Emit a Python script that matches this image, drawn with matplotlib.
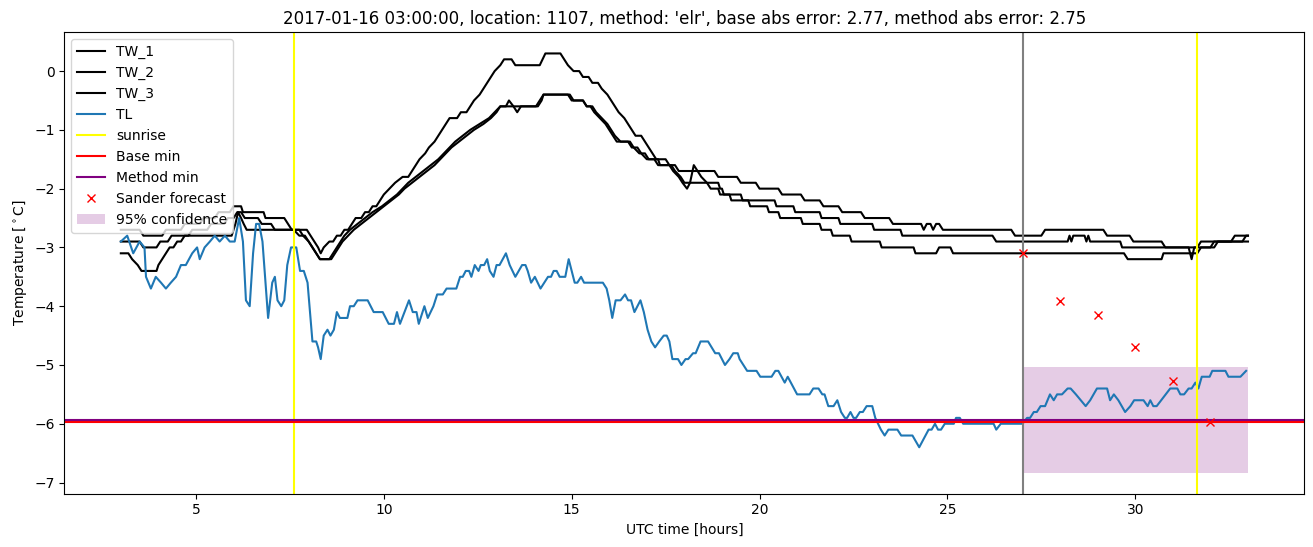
import matplotlib
matplotlib.use("Agg")
from matplotlib import pyplot as plt

# (hours, degC)
tw_1 = [(3.0, -2.7), (3.5, -2.7), (3.6, -2.8), (4.1, -2.8), (4.2, -2.7), (4.6, -2.7), (4.7, -2.6),
        (5.1, -2.6), (5.2, -2.5), (5.5, -2.5), (5.6, -2.4), (5.9, -2.4), (6.0, -2.3), (6.2, -2.3),
        (6.25, -2.4), (6.8, -2.4), (6.85, -2.5), (7.35, -2.5), (7.45, -2.6), (7.55, -2.7), (7.95, -2.7),
        (8.05, -2.8), (8.15, -2.9), (8.25, -3.0), (8.32, -3.1), (8.4, -3.0), (8.55, -2.9), (8.65, -2.9),
        (8.75, -2.8), (8.85, -2.8), (8.95, -2.7), (9.05, -2.7), (9.15, -2.6), (9.25, -2.5), (9.4, -2.5),
        (9.5, -2.4), (9.6, -2.4), (9.7, -2.3), (9.8, -2.3), (9.9, -2.2), (10.0, -2.1), (10.15, -2.0),
        (10.3, -1.9), (10.5, -1.8), (10.65, -1.8), (10.75, -1.7), (10.85, -1.6), (10.95, -1.5),
        (11.1, -1.4), (11.2, -1.3), (11.35, -1.2), (11.45, -1.1), (11.55, -1.0), (11.65, -0.9),
        (11.75, -0.8), (11.95, -0.8), (12.05, -0.7), (12.2, -0.7), (12.3, -0.6), (12.4, -0.5),
        (12.55, -0.4), (12.65, -0.3), (12.75, -0.2), (12.85, -0.1), (12.95, 0.0), (13.1, 0.1),
        (13.2, 0.2), (13.4, 0.2), (13.5, 0.1), (14.15, 0.1), (14.3, 0.3), (14.7, 0.3), (14.8, 0.2),
        (14.9, 0.1), (15.05, 0.0), (15.2, 0.0), (15.3, -0.1), (15.45, -0.1), (15.55, -0.2), (15.7, -0.2),
        (15.8, -0.3), (15.95, -0.4), (16.05, -0.5), (16.15, -0.6), (16.25, -0.7), (16.4, -0.8),
        (16.5, -0.9), (16.6, -1.0), (16.7, -1.1), (16.85, -1.1), (16.95, -1.2), (17.05, -1.3),
        (17.15, -1.4), (17.25, -1.5), (17.5, -1.5), (17.6, -1.6), (17.75, -1.6), (17.85, -1.7),
        (18.8, -1.7), (18.9, -1.8), (19.4, -1.8), (19.5, -1.9), (19.9, -1.9), (20.0, -2.0), (20.5, -2.0),
        (20.6, -2.1), (21.1, -2.1), (21.2, -2.2), (21.6, -2.2), (21.7, -2.3), (22.1, -2.3), (22.2, -2.4),
        (22.7, -2.4), (22.8, -2.5), (23.45, -2.5), (23.55, -2.6), (24.3, -2.6), (24.37, -2.7),
        (24.45, -2.6), (24.55, -2.6), (24.62, -2.7), (24.7, -2.6), (24.78, -2.6), (24.88, -2.7),
        (26.7, -2.7), (26.8, -2.8), (27.5, -2.8), (27.6, -2.7), (29.15, -2.7), (29.25, -2.8),
        (29.85, -2.8), (29.95, -2.9), (30.7, -2.9), (30.8, -3.0), (31.65, -3.0), (31.75, -2.9),
        (32.55, -2.9), (32.65, -2.8), (33.0, -2.8)]

tw_2 = [(3.0, -2.9), (3.5, -2.9), (3.6, -3.0), (3.95, -3.0), (4.05, -2.9), (4.25, -2.9), (4.35, -2.8),
        (4.8, -2.8), (4.9, -2.7), (5.3, -2.7), (5.4, -2.6), (5.75, -2.6), (5.85, -2.5), (6.0, -2.5),
        (6.1, -2.4), (6.2, -2.4), (6.3, -2.5), (6.65, -2.5), (6.75, -2.6), (7.0, -2.6), (7.1, -2.7),
        (7.75, -2.7), (7.85, -2.8), (8.0, -2.9), (8.1, -3.0), (8.2, -3.1), (8.3, -3.2), (8.55, -3.2),
        (8.65, -3.1), (8.75, -3.0), (8.85, -2.9), (8.95, -2.8), (9.1, -2.7), (9.3, -2.6), (9.5, -2.5),
        (9.7, -2.4), (9.95, -2.3), (10.15, -2.2), (10.35, -2.1), (10.5, -2.0), (10.65, -1.9),
        (10.85, -1.8), (11.05, -1.7), (11.25, -1.6), (11.45, -1.5), (11.6, -1.4), (11.75, -1.3),
        (11.9, -1.2), (12.1, -1.1), (12.3, -1.0), (12.55, -0.9), (12.8, -0.8), (12.95, -0.7),
        (13.1, -0.6), (13.25, -0.6), (13.33, -0.5), (13.45, -0.6), (13.55, -0.7),
        (13.65, -0.6), (14.1, -0.6), (14.2, -0.5), (14.25, -0.4), (14.95, -0.4), (15.05, -0.5),
        (15.3, -0.5), (15.4, -0.6), (15.55, -0.6), (15.65, -0.7), (15.8, -0.8), (15.95, -0.9),
        (16.05, -1.0), (16.15, -1.1), (16.3, -1.2), (16.5, -1.2), (16.6, -1.3), (16.75, -1.3),
        (16.85, -1.4), (17.0, -1.5), (17.2, -1.5), (17.3, -1.6), (17.6, -1.6), (17.7, -1.7),
        (17.85, -1.8), (17.95, -1.9), (18.07, -2.0), (18.15, -1.9), (18.25, -1.6), (18.35, -1.7),
        (18.45, -1.8), (18.6, -1.9), (18.9, -1.9), (18.95, -2.0), (19.0, -2.0), (19.05, -2.1),
        (19.5, -2.1), (19.55, -2.2), (20.4, -2.2), (20.45, -2.3), (20.9, -2.3), (20.95, -2.4),
        (21.6, -2.4), (21.65, -2.5), (22.1, -2.5), (22.15, -2.6), (23.0, -2.6), (23.05, -2.7),
        (23.75, -2.7), (23.8, -2.8), (26.2, -2.8), (26.3, -2.9), (28.2, -2.9), (28.25, -2.8),
        (28.3, -2.9), (28.35, -2.8), (28.65, -2.8), (28.7, -2.9), (28.75, -2.8), (28.8, -2.9),
        (29.6, -2.9), (29.65, -3.0), (31.42, -3.0), (31.5, -3.2), (31.57, -3.0), (32.0, -3.0),
        (32.1, -2.9), (33.0, -2.9)]

tw_3 = [(3.0, -3.1), (3.2, -3.1), (3.3, -3.2), (3.45, -3.3), (3.55, -3.4), (3.95, -3.4), (4.0, -3.3),
        (4.1, -3.2), (4.2, -3.1), (4.3, -3.0), (4.4, -3.0), (4.5, -2.9), (4.6, -2.9), (4.7, -2.8),
        (5.95, -2.8), (6.05, -2.6), (6.12, -2.4), (6.2, -2.5), (6.27, -2.6), (6.35, -2.7), (7.6, -2.7),
        (7.75, -2.8), (7.9, -2.8), (8.0, -2.9), (8.1, -3.0), (8.2, -3.1), (8.3, -3.2), (8.6, -3.2),
        (8.7, -3.1), (8.8, -3.0), (8.9, -2.9), (9.05, -2.8), (9.2, -2.7), (9.4, -2.6), (9.6, -2.5),
        (9.8, -2.4), (10.0, -2.3), (10.2, -2.2), (10.4, -2.1), (10.55, -2.0), (10.75, -1.9),
        (10.95, -1.8), (11.15, -1.7), (11.35, -1.6), (11.5, -1.5), (11.65, -1.4), (11.8, -1.3),
        (12.0, -1.2), (12.2, -1.1), (12.4, -1.0), (12.65, -0.9), (12.85, -0.8), (13.0, -0.7),
        (13.1, -0.6), (14.05, -0.6), (14.15, -0.5), (14.25, -0.4), (14.9, -0.4), (15.0, -0.5),
        (15.3, -0.5), (15.4, -0.6), (15.5, -0.6), (15.6, -0.7), (15.75, -0.8), (15.9, -0.9),
        (16.0, -1.0), (16.1, -1.1), (16.2, -1.2), (16.55, -1.2), (16.65, -1.3), (16.8, -1.4),
        (16.95, -1.4), (17.05, -1.5), (17.3, -1.5), (17.35, -1.6), (17.65, -1.6), (17.75, -1.7),
        (17.9, -1.8), (18.0, -1.9), (18.6, -1.9), (18.7, -2.0), (18.9, -2.0), (18.95, -2.1),
        (19.2, -2.1), (19.25, -2.2), (19.7, -2.2), (19.75, -2.3), (20.2, -2.3), (20.25, -2.4),
        (20.5, -2.4), (20.55, -2.5), (21.1, -2.5), (21.15, -2.6), (21.6, -2.6), (21.65, -2.7),
        (21.9, -2.7), (21.95, -2.8), (22.4, -2.8), (22.45, -2.9), (23.2, -2.9), (23.25, -3.0),
        (24.1, -3.0), (24.15, -3.1), (24.7, -3.1), (24.78, -3.0), (25.08, -3.0), (25.15, -3.1),
        (29.7, -3.1), (29.8, -3.2), (30.7, -3.2), (30.75, -3.1), (31.65, -3.1), (31.75, -3.0),
        (32.1, -3.0), (32.2, -2.9), (32.85, -2.9), (32.95, -2.8), (33.0, -2.8)]

tl = [(3.0, -2.9), (3.17, -2.8), (3.33, -3.1), (3.5, -2.9), (3.63, -3.0), (3.67, -3.5), (3.8, -3.7),
      (3.93, -3.5), (4.07, -3.6), (4.2, -3.7), (4.33, -3.6), (4.47, -3.5), (4.6, -3.3), (4.73, -3.3),
      (4.9, -3.1), (5.03, -3.0), (5.1, -3.2), (5.23, -3.0), (5.37, -2.9), (5.5, -2.8), (5.63, -2.9),
      (5.77, -2.8), (5.9, -2.9), (6.03, -2.9), (6.15, -2.5), (6.25, -2.9), (6.33, -3.9), (6.43, -4.0),
      (6.52, -3.1), (6.6, -2.6), (6.68, -2.6), (6.77, -2.9), (6.92, -4.2), (7.03, -3.6), (7.1, -3.5),
      (7.17, -3.9), (7.27, -4.0), (7.35, -3.9), (7.43, -3.3), (7.53, -3.0), (7.67, -3.0), (7.77, -3.4),
      (7.87, -3.4), (7.97, -3.6), (8.1, -4.6), (8.2, -4.6), (8.25, -4.7), (8.32, -4.9), (8.4, -4.5),
      (8.5, -4.4), (8.58, -4.5), (8.67, -4.4), (8.75, -4.1), (8.83, -4.2), (9.03, -4.2), (9.1, -4.0),
      (9.2, -4.0), (9.3, -3.9), (9.57, -3.9), (9.73, -4.1), (9.97, -4.1), (10.13, -4.3), (10.27, -4.3),
      (10.35, -4.1), (10.43, -4.3), (10.55, -4.1), (10.67, -3.9), (10.77, -4.1), (10.87, -4.1),
      (10.93, -4.3), (11.08, -4.0), (11.17, -4.2), (11.32, -4.0), (11.42, -3.8), (11.57, -3.8),
      (11.67, -3.7), (11.93, -3.7), (12.03, -3.5), (12.1, -3.5), (12.18, -3.4), (12.27, -3.4),
      (12.33, -3.5), (12.42, -3.3), (12.52, -3.4), (12.58, -3.3), (12.67, -3.3), (12.75, -3.2),
      (12.82, -3.4), (12.92, -3.5), (13.0, -3.3), (13.08, -3.3), (13.25, -3.1), (13.35, -3.3),
      (13.5, -3.5), (13.68, -3.3), (13.77, -3.3), (13.83, -3.4), (13.92, -3.6), (14.02, -3.5),
      (14.17, -3.7), (14.37, -3.5), (14.45, -3.5), (14.52, -3.4), (14.6, -3.4), (14.68, -3.5),
      (14.83, -3.5), (14.92, -3.2), (15.08, -3.6), (15.15, -3.6), (15.25, -3.5), (15.33, -3.6),
      (15.83, -3.6), (15.93, -3.7), (16.0, -3.9), (16.08, -4.2), (16.17, -3.9), (16.3, -3.9),
      (16.42, -3.8), (16.5, -3.9), (16.58, -3.9), (16.67, -4.1), (16.83, -3.9), (16.92, -4.1),
      (17.02, -4.4), (17.12, -4.6), (17.22, -4.7), (17.33, -4.6), (17.45, -4.5), (17.53, -4.5),
      (17.6, -4.6), (17.68, -4.9), (17.83, -4.9), (17.92, -5.0), (18.03, -4.9), (18.1, -4.9),
      (18.23, -4.8), (18.3, -4.8), (18.43, -4.6), (18.63, -4.6), (18.82, -4.8), (18.92, -4.8),
      (19.08, -5.0), (19.2, -4.9), (19.3, -4.8), (19.42, -4.8), (19.47, -4.9), (19.67, -5.1),
      (19.92, -5.1), (20.02, -5.2), (20.32, -5.2), (20.42, -5.1), (20.5, -5.1), (20.67, -5.3),
      (20.75, -5.2), (21.0, -5.5), (21.33, -5.5), (21.43, -5.4), (21.57, -5.4), (21.67, -5.5),
      (21.73, -5.5), (21.83, -5.7), (21.97, -5.7), (22.07, -5.6), (22.17, -5.8), (22.27, -5.9),
      (22.33, -5.9), (22.42, -5.8), (22.5, -5.9), (22.57, -5.9), (22.67, -5.8), (22.75, -5.8),
      (22.85, -5.7), (23.0, -5.7), (23.08, -5.9), (23.23, -6.1), (23.33, -6.2), (23.43, -6.1),
      (23.67, -6.1), (23.77, -6.2), (24.07, -6.2), (24.25, -6.4), (24.5, -6.1), (24.58, -6.1),
      (24.67, -6.0), (24.75, -6.1), (24.83, -6.1), (24.93, -6.0), (25.17, -6.0), (25.23, -5.9),
      (25.33, -5.9), (25.42, -6.0), (26.23, -6.0), (26.3, -6.1), (26.42, -6.0), (27.0, -6.0),
      (27.12, -5.9), (27.2, -5.9), (27.3, -5.8), (27.38, -5.8), (27.48, -5.7), (27.6, -5.7),
      (27.73, -5.5), (27.83, -5.6), (27.92, -5.5), (28.05, -5.5), (28.2, -5.4), (28.28, -5.4),
      (28.42, -5.5), (28.55, -5.6), (28.68, -5.7), (28.8, -5.6), (28.98, -5.4), (29.25, -5.4),
      (29.33, -5.6), (29.43, -5.5), (29.55, -5.6), (29.73, -5.8), (29.87, -5.7), (29.97, -5.6),
      (30.22, -5.6), (30.33, -5.7), (30.4, -5.6), (30.48, -5.7), (30.57, -5.7), (30.93, -5.4),
      (31.12, -5.4), (31.2, -5.5), (31.3, -5.5), (31.42, -5.4), (31.5, -5.4), (31.6, -5.3),
      (31.68, -5.4), (31.77, -5.2), (31.98, -5.2), (32.05, -5.1), (32.4, -5.1), (32.48, -5.2),
      (32.8, -5.2), (32.95, -5.1)]

sunrise = [7.62, 31.63]
forecast_start = 27.0
base_min = -5.965
method_min = -5.93
sander_t = [27, 28, 29, 30, 31, 32]
sander_v = [-3.1, -3.92, -4.15, -4.7, -5.28, -5.97]
conf_t = [27.0, 33.0]
conf_lo = -6.83
conf_hi = -5.03

title = ("2017-01-16 03:00:00, location: 1107, method: 'elr', "
         "base abs error: 2.77, method abs error: 2.75")

fig, ax = plt.subplots(figsize=(13.13, 5.47), dpi=100)
fig.subplots_adjust(left=0.0491, right=0.9934, bottom=0.0978, top=0.9406)

for name, series in [("TW_1", tw_1), ("TW_2", tw_2), ("TW_3", tw_3)]:
    t, v = zip(*series)
    ax.plot(t, v, color="black", label=name)

t, v = zip(*tl)
ax.plot(t, v, color="C0", label="TL")

ax.axvline(sunrise[0], color="yellow", label="sunrise")
ax.axvline(sunrise[1], color="yellow")
ax.axvline(forecast_start, color="gray")
ax.axhline(base_min, color="red", label="Base min")
ax.axhline(method_min, color="purple", label="Method min")
ax.plot(sander_t, sander_v, "rx", label="Sander forecast")
ax.fill_between(conf_t, conf_lo, conf_hi, color="purple", alpha=0.2, linewidth=0,
                label="95% confidence")

ax.set_title(title)
ax.set_xlabel("UTC time [hours]")
ax.set_ylabel(r"Temperature [$^\circ$C]")
ax.legend(loc="upper left")

plt.savefig("out.png")
